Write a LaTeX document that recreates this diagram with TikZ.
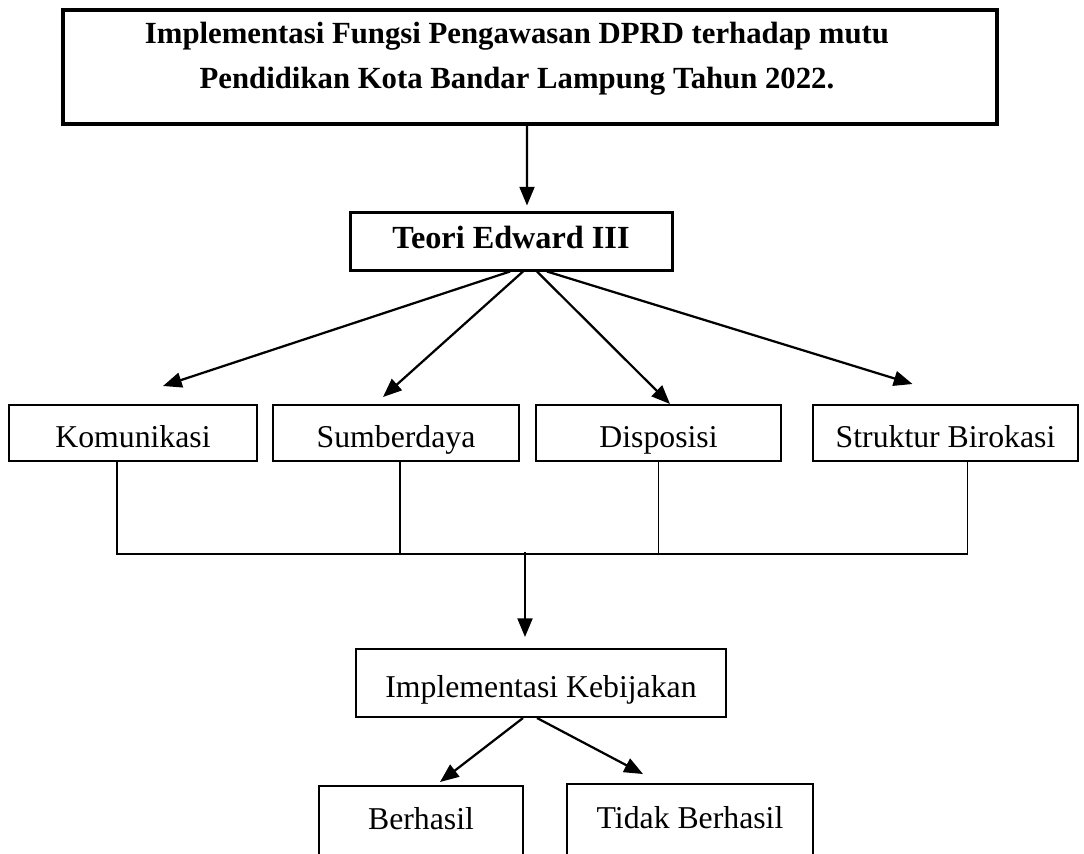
\documentclass[tikz,border=0pt]{standalone}
\usepackage{fontspec}
\setmainfont{Liberation Serif}
\usetikzlibrary{arrows.meta}
\tikzset{
  kotak/.style={draw, line width=0.8pt, minimum height=22.4pt, inner sep=0pt,
    text height=12pt, text depth=0.4pt, font=\fontsize{12.7}{15}\selectfont},
  panah/.style={line width=0.9pt, -{Triangle[length=7.5pt,width=6pt]}},
  garis/.style={line width=0.45pt}
}
\begin{document}
\begin{tikzpicture}[x=0.4pt,y=-0.4pt]
  \useasboundingbox (0,0) rectangle (1084,853);
  \clip (0,0) rectangle (1084,853);
  % judul
  \node[draw, line width=1.6pt, minimum width=373.6pt, minimum height=45.6pt] (judul) at (530,67) {};
  \node[align=center, font=\fontsize{12.3}{18}\selectfont\bfseries] (judulteks) at (517,59)
    {Implementasi Fungsi Pengawasan DPRD terhadap mutu\\Pendidikan Kota Bandar Lampung Tahun 2022.};
  \node[kotak, line width=1.2pt, minimum width=128.8pt, minimum height=23.2pt,
    text height=8.6pt, text depth=2.6pt,
    font=\fontsize{12.9}{15}\selectfont\bfseries] (teori) at (511,241) {Teori Edward III};
  \draw[panah, shorten >=2pt] ([xshift=-1.2pt]judul.south) -- ([xshift=6.4pt]teori.north);
  % empat faktor
  \foreach \nama/\x/\w/\teks in {kom/133/99.2/Komunikasi, sumber/396/98.4/Sumberdaya,
      disposisi/658.5/98/Disposisi, struktur/945.5/106/Struktur Birokasi}
    \node[kotak, minimum width=\w pt] (\nama) at (\x,433) {\teks};
  \foreach \nama/\dx/\tx/\ty in {kom/-0.4/12/7.2, sumber/4.8/-5.2/2.8,
      disposisi/10.4/4.6/0, struktur/14.4/-13.2/8}
    \draw[panah] ([xshift=\dx pt]teori.south) -- ([xshift=\tx pt, yshift=\ty pt]\nama.north);
  % hasil
  \node[kotak, minimum width=148pt, minimum height=27.2pt] (implementasi) at (541,683) {Implementasi Kebijakan};
  \node[kotak, minimum width=81.6pt, minimum height=28.8pt, text height=8.6pt, text depth=2.6pt] (berhasil) at (421,822) {Berhasil};
  \node[kotak, minimum width=98.4pt, minimum height=29.6pt, text height=8.6pt, text depth=2.6pt] (tidak) at (690,821) {Tidak Berhasil};
  \draw[garis] ([xshift=-6.4pt]kom.south) -- ++(0,92) -| ([xshift=8.8pt]struktur.south);
  \draw[garis] ([xshift=1.6pt]sumber.south) -- ++(0,92);
  \draw[garis] (disposisi.south) -- ++(0,92);
  \draw[panah, shorten >=4.4pt] ([xshift=-6.4pt, yshift=38.4pt]implementasi.north) -- ([xshift=-6.4pt]implementasi.north);
  \draw[panah] ([xshift=-7.2pt]implementasi.south) -- ([xshift=7.6pt, yshift=1.2pt]berhasil.north);
  \draw[panah] ([xshift=-1.6pt]implementasi.south) -- ([xshift=-18.8pt, yshift=3.6pt]tidak.north);
\end{tikzpicture}
\end{document}
